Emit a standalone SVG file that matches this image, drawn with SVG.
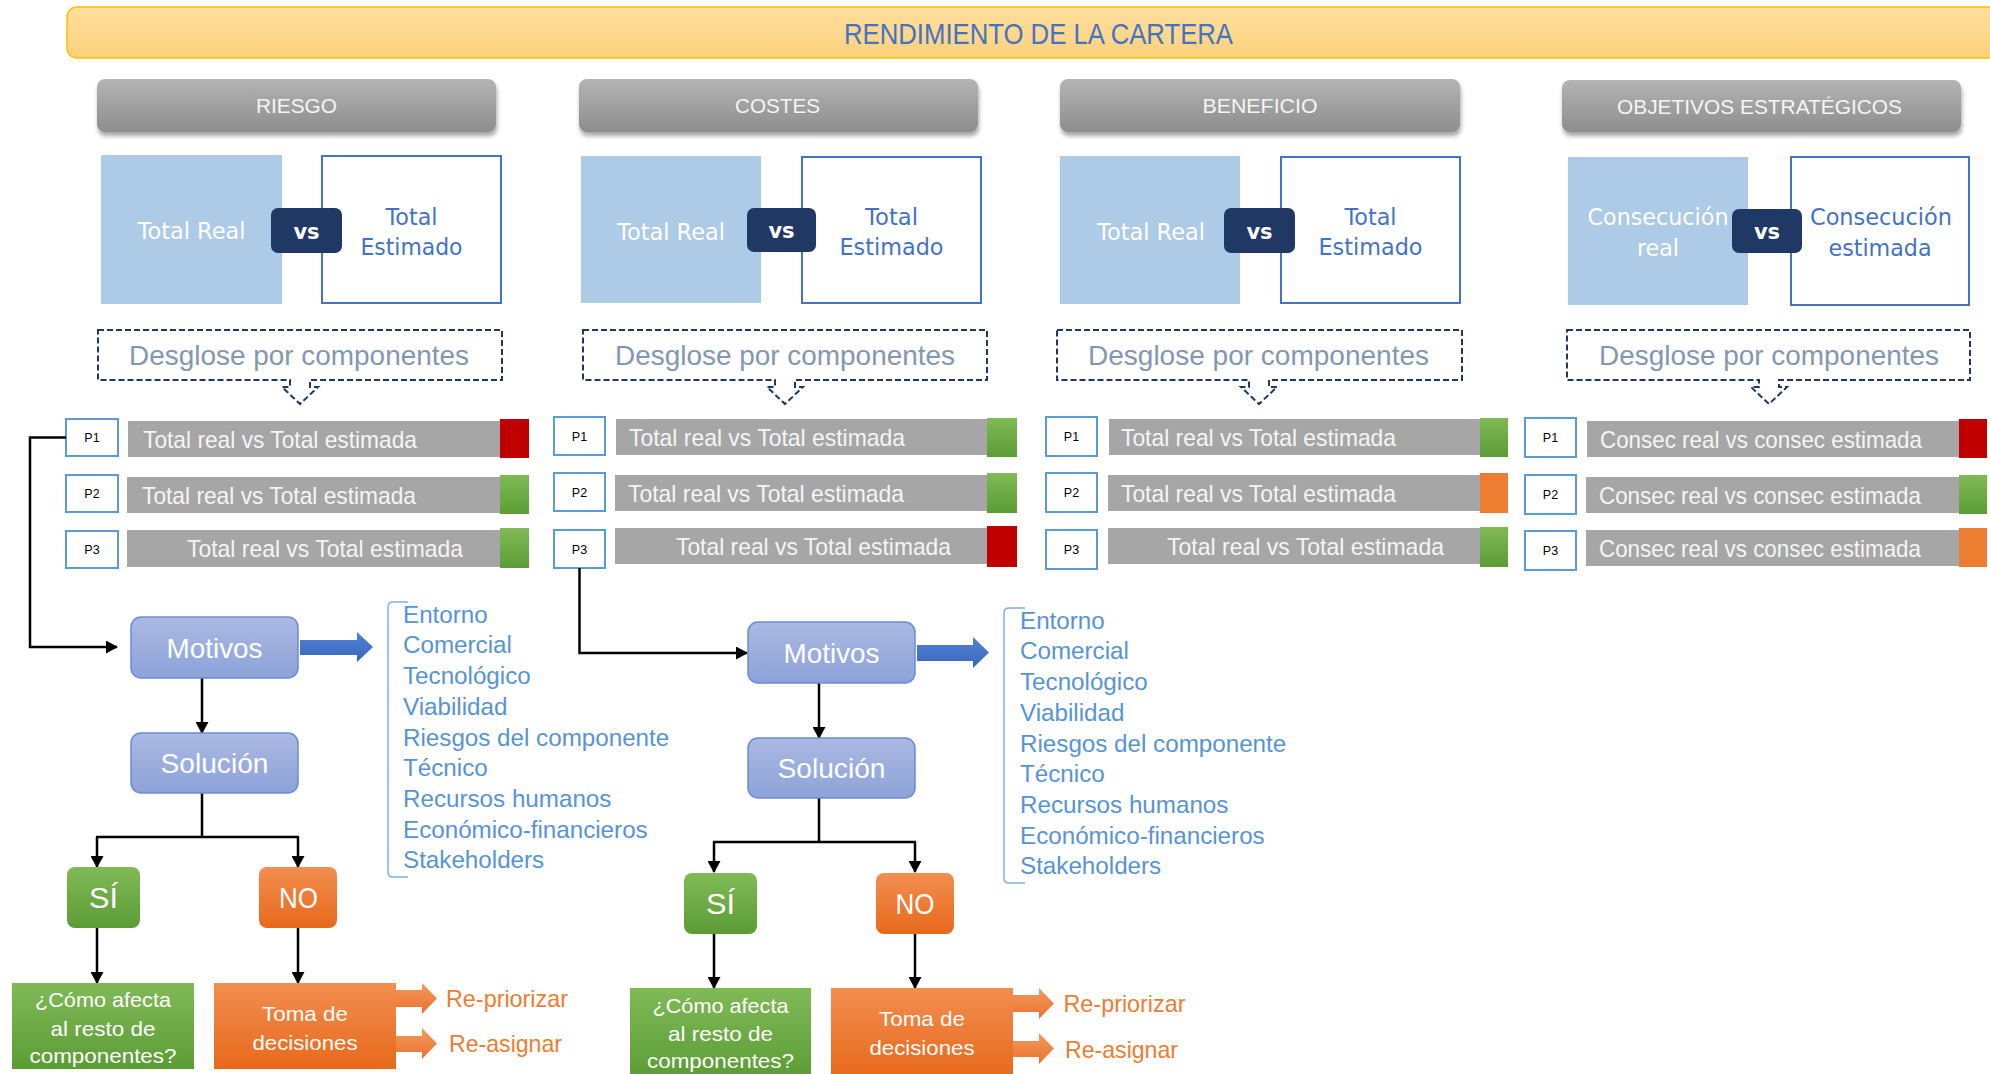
<svg xmlns="http://www.w3.org/2000/svg" width="1990" height="1074" viewBox="0 0 1990 1074">
  <defs>
    <linearGradient id="gBanner" x1="0" y1="0" x2="0" y2="1"><stop offset="0" stop-color="#ffdf9f"/><stop offset="1" stop-color="#fdd17b"/></linearGradient>
    <linearGradient id="gHdr" x1="0" y1="0" x2="0" y2="1"><stop offset="0" stop-color="#b4b4b4"/><stop offset="1" stop-color="#8d8d8d"/></linearGradient>
    <linearGradient id="gMot" x1="0" y1="0" x2="0" y2="1"><stop offset="0" stop-color="#abb9e2"/><stop offset="1" stop-color="#8ca2d9"/></linearGradient>
    <linearGradient id="gGreen" x1="0" y1="0" x2="0" y2="1"><stop offset="0" stop-color="#80ba57"/><stop offset="1" stop-color="#5c9c35"/></linearGradient>
    <linearGradient id="gOrange" x1="0" y1="0" x2="0" y2="1"><stop offset="0" stop-color="#f28e50"/><stop offset="1" stop-color="#e7691b"/></linearGradient>
    <linearGradient id="gBlueArrow" x1="0" y1="0" x2="0" y2="1"><stop offset="0" stop-color="#5082d3"/><stop offset="1" stop-color="#3a66be"/></linearGradient>
    <linearGradient id="gOrArrow" x1="0" y1="0" x2="0" y2="1"><stop offset="0" stop-color="#f39a5c"/><stop offset="1" stop-color="#ea7330"/></linearGradient>
    <filter id="shadow" x="-5%" y="-20%" width="110%" height="160%">
      <feDropShadow dx="1" dy="4" stdDeviation="2.2" flood-color="#000" flood-opacity="0.35"/>
    </filter>
    <marker id="arr" markerUnits="userSpaceOnUse" markerWidth="13" markerHeight="13" refX="11" refY="6.5" orient="auto">
      <path d="M0,0 L12,6.5 L0,13 Z" fill="#000"/>
    </marker>
    <style>
      text { font-family: "Liberation Sans", Arial, sans-serif; }
      .title { font-size: 29px; fill: #4472c4; text-anchor: middle; }
      .banner { fill: url(#gBanner); stroke: #ffc000; stroke-width: 1.5; }
      .hdr { fill: url(#gHdr); filter: url(#shadow); }
      .hdrT { font-size: 21px; fill: #f5f5f5; text-anchor: middle; }
      .real { fill: #adcae7; }
      .est { fill: #fff; stroke: #4472c4; stroke-width: 2; }
      .vs { fill: #203864; }
      .vsT { font-family: "DejaVu Sans", Verdana, sans-serif; font-size: 21px; font-weight: bold; fill: #fff; text-anchor: middle; }
      .realT { font-family: "DejaVu Sans", Verdana, sans-serif; font-size: 23px; fill: #fff; text-anchor: middle; }
      .estT { font-family: "DejaVu Sans", Verdana, sans-serif; font-size: 23px; fill: #4472c4; text-anchor: middle; }
      .callout { fill: #fff; stroke: #203864; stroke-width: 2; stroke-dasharray: 6 3; }
      .callT { font-size: 28px; fill: #8497b0; text-anchor: middle; }
      .pbox { fill: #fff; stroke: #5b9bd5; stroke-width: 2; }
      .pT { font-size: 12.5px; fill: #000; text-anchor: middle; }
      .bar { fill: #a6a6a6; }
      .barT { font-size: 24px; fill: #f5f5f5; }
      .red { fill: #c00000; }
      .grn { fill: url(#gGreen); }
      .org { fill: #ed7d31; }
      .mot { fill: url(#gMot); stroke: #6c8cd5; stroke-width: 1.5; }
      .motT { font-size: 28px; fill: #fff; text-anchor: middle; }
      .si { fill: url(#gGreen); }
      .no { fill: url(#gOrange); }
      .decT { font-size: 30px; fill: #fff; text-anchor: middle; }
      .boxT { font-size: 21px; fill: #fff; text-anchor: middle; }
      .list { font-size: 24.2px; fill: #5694d4; }
      .brk { fill: none; stroke: #7fb0e0; stroke-width: 1.5; }
      .bigArr { fill: url(#gBlueArrow); }
      .orArr { fill: url(#gOrArrow); }
      .opt { font-size: 24px; fill: #ed7d31; }
      .conn { fill: none; stroke: #000; stroke-width: 2.5; }
      .connA { fill: none; stroke: #000; stroke-width: 2.5; marker-end: url(#arr); }
    </style>
  </defs>

  <rect width="1990" height="1074" fill="#fff"/>

  <!-- Title banner -->
  <g id="banner">
    <rect class="banner" x="67" y="7" width="1940" height="51" rx="10"/>
    <text class="title" x="1038.5" y="44" textLength="389" lengthAdjust="spacingAndGlyphs">RENDIMIENTO DE LA CARTERA</text>
  </g>

  <!-- Column headers -->
  <g id="hdr-riesgo"><rect class="hdr" x="97" y="79" width="399" height="53" rx="8"/><text class="hdrT" x="296.5" y="113" textLength="81" lengthAdjust="spacingAndGlyphs">RIESGO</text></g>
  <g id="hdr-costes"><rect class="hdr" x="579" y="79" width="399" height="53" rx="8"/><text class="hdrT" x="777.5" y="113" textLength="85" lengthAdjust="spacingAndGlyphs">COSTES</text></g>
  <g id="hdr-beneficio"><rect class="hdr" x="1060" y="79" width="400" height="53" rx="8"/><text class="hdrT" x="1260" y="113" textLength="115" lengthAdjust="spacingAndGlyphs">BENEFICIO</text></g>
  <g id="hdr-objetivos"><rect class="hdr" x="1562" y="80" width="399" height="52" rx="8"/><text class="hdrT" x="1759.5" y="113.5" textLength="285" lengthAdjust="spacingAndGlyphs">OBJETIVOS ESTRATÉGICOS</text></g>

  <!-- Real vs estimated comparison blocks -->
  <g id="cmp-riesgo">
    <rect class="real" x="101" y="155" width="181" height="149"/>
    <rect class="est" x="322" y="156" width="179" height="147"/>
    <text class="realT" x="191.5" y="239" textLength="108" lengthAdjust="spacingAndGlyphs">Total Real</text>
    <text class="estT" x="411.5" y="224.5" textLength="52" lengthAdjust="spacingAndGlyphs">Total</text>
    <text class="estT" x="411.5" y="254.5" textLength="102" lengthAdjust="spacingAndGlyphs">Estimado</text>
    <rect class="vs" x="271" y="208" width="71" height="45" rx="7"/>
    <text class="vsT" x="306.5" y="238.5">vs</text>
  </g>
  <g id="cmp-costes">
    <rect class="real" x="581" y="156" width="180" height="147"/>
    <rect class="est" x="802" y="157" width="179" height="146"/>
    <text class="realT" x="671" y="239.5" textLength="108" lengthAdjust="spacingAndGlyphs">Total Real</text>
    <text class="estT" x="891.5" y="225" textLength="53" lengthAdjust="spacingAndGlyphs">Total</text>
    <text class="estT" x="891.5" y="255" textLength="104" lengthAdjust="spacingAndGlyphs">Estimado</text>
    <rect class="vs" x="747" y="208" width="69" height="44" rx="7"/>
    <text class="vsT" x="781.5" y="238">vs</text>
  </g>
  <g id="cmp-beneficio">
    <rect class="real" x="1060" y="156" width="180" height="148"/>
    <rect class="est" x="1281" y="157" width="179" height="146"/>
    <text class="realT" x="1151" y="239.5" textLength="108" lengthAdjust="spacingAndGlyphs">Total Real</text>
    <text class="estT" x="1370.5" y="225" textLength="52" lengthAdjust="spacingAndGlyphs">Total</text>
    <text class="estT" x="1370.5" y="255" textLength="104" lengthAdjust="spacingAndGlyphs">Estimado</text>
    <rect class="vs" x="1224" y="208" width="71" height="45" rx="7"/>
    <text class="vsT" x="1259.5" y="238.5">vs</text>
  </g>
  <g id="cmp-objetivos">
    <rect class="real" x="1568" y="157" width="180" height="148"/>
    <rect class="est" x="1791" y="157" width="178" height="148"/>
    <text class="realT" x="1658" y="225" textLength="141" lengthAdjust="spacingAndGlyphs">Consecución</text>
    <text class="realT" x="1658" y="256" textLength="42" lengthAdjust="spacingAndGlyphs">real</text>
    <text class="estT" x="1881" y="225" textLength="142" lengthAdjust="spacingAndGlyphs">Consecución</text>
    <text class="estT" x="1880" y="256" textLength="103" lengthAdjust="spacingAndGlyphs">estimada</text>
    <rect class="vs" x="1732" y="209" width="70" height="44" rx="7"/>
    <text class="vsT" x="1767" y="239">vs</text>
  </g>

  <!-- Breakdown callouts (dashed box with a pointer underneath) -->
  <g id="desglose-riesgo">
    <path class="callout" d="M98,330 H502 V380 H310 V387 H318 L300,404 L282,387 H290 V380 H98 Z"/>
    <text class="callT" x="299" y="365" textLength="340" lengthAdjust="spacingAndGlyphs">Desglose por componentes</text>
  </g>
  <g id="desglose-costes">
    <path class="callout" d="M583,330 H987 V380 H795 V387 H803 L785,404 L767,387 H775 V380 H583 Z"/>
    <text class="callT" x="785" y="365" textLength="340" lengthAdjust="spacingAndGlyphs">Desglose por componentes</text>
  </g>
  <g id="desglose-beneficio">
    <path class="callout" d="M1057,330 H1462 V380 H1269 V387 H1277 L1259,404 L1241,387 H1249 V380 H1057 Z"/>
    <text class="callT" x="1258.5" y="365" textLength="341" lengthAdjust="spacingAndGlyphs">Desglose por componentes</text>
  </g>
  <g id="desglose-objetivos">
    <path class="callout" d="M1567,330 H1970 V380 H1779 V387 H1787 L1769,404 L1751,387 H1759 V380 H1567 Z"/>
    <text class="callT" x="1769" y="365" textLength="340" lengthAdjust="spacingAndGlyphs">Desglose por componentes</text>
  </g>

  <!-- Component rows: RIESGO -->
  <g id="riesgo-p1"><rect class="pbox" x="66" y="419" width="52" height="37"/><text class="pT" x="92" y="442">P1</text>
    <rect class="bar" x="128" y="421" width="372" height="36"/><rect class="red" x="500" y="419" width="29" height="39"/>
    <text class="barT" x="143" y="447.5" textLength="274" lengthAdjust="spacingAndGlyphs">Total real vs Total estimada</text></g>
  <g id="riesgo-p2"><rect class="pbox" x="66" y="475" width="52" height="37"/><text class="pT" x="92" y="498">P2</text>
    <rect class="bar" x="127" y="477" width="373" height="36"/><rect class="grn" x="500" y="475" width="29" height="39"/>
    <text class="barT" x="142" y="503.5" textLength="274" lengthAdjust="spacingAndGlyphs">Total real vs Total estimada</text></g>
  <g id="riesgo-p3"><rect class="pbox" x="66" y="531" width="52" height="37"/><text class="pT" x="92" y="554">P3</text>
    <rect class="bar" x="127" y="530" width="373" height="37"/><rect class="grn" x="500" y="528" width="29" height="40"/>
    <text class="barT" x="187" y="557" textLength="276" lengthAdjust="spacingAndGlyphs">Total real vs Total estimada</text></g>

  <!-- Component rows: COSTES -->
  <g id="costes-p1"><rect class="pbox" x="554" y="417" width="51" height="38"/><text class="pT" x="579.5" y="440.5">P1</text>
    <rect class="bar" x="616" y="419" width="371" height="36"/><rect class="grn" x="987" y="418" width="30" height="39"/>
    <text class="barT" x="629" y="445.5" textLength="276" lengthAdjust="spacingAndGlyphs">Total real vs Total estimada</text></g>
  <g id="costes-p2"><rect class="pbox" x="554" y="473" width="51" height="38"/><text class="pT" x="579.5" y="496.5">P2</text>
    <rect class="bar" x="615" y="475" width="372" height="36"/><rect class="grn" x="987" y="473" width="30" height="40"/>
    <text class="barT" x="628" y="501.5" textLength="276" lengthAdjust="spacingAndGlyphs">Total real vs Total estimada</text></g>
  <g id="costes-p3"><rect class="pbox" x="554" y="530" width="51" height="38"/><text class="pT" x="579.5" y="553.5">P3</text>
    <rect class="bar" x="615" y="528" width="372" height="36"/><rect class="red" x="987" y="526" width="30" height="41"/>
    <text class="barT" x="676" y="554.5" textLength="275" lengthAdjust="spacingAndGlyphs">Total real vs Total estimada</text></g>

  <!-- Component rows: BENEFICIO -->
  <g id="beneficio-p1"><rect class="pbox" x="1046" y="417" width="51" height="39"/><text class="pT" x="1071.5" y="441">P1</text>
    <rect class="bar" x="1109" y="419" width="371" height="36"/><rect class="grn" x="1480" y="418" width="28" height="39"/>
    <text class="barT" x="1121" y="445.5" textLength="275" lengthAdjust="spacingAndGlyphs">Total real vs Total estimada</text></g>
  <g id="beneficio-p2"><rect class="pbox" x="1046" y="473" width="51" height="39"/><text class="pT" x="1071.5" y="497">P2</text>
    <rect class="bar" x="1108" y="475" width="372" height="36"/><rect class="org" x="1480" y="473" width="28" height="40"/>
    <text class="barT" x="1121" y="501.5" textLength="275" lengthAdjust="spacingAndGlyphs">Total real vs Total estimada</text></g>
  <g id="beneficio-p3"><rect class="pbox" x="1046" y="530" width="51" height="39"/><text class="pT" x="1071.5" y="554">P3</text>
    <rect class="bar" x="1108" y="528" width="372" height="36"/><rect class="grn" x="1480" y="527" width="28" height="40"/>
    <text class="barT" x="1167" y="554.5" textLength="277" lengthAdjust="spacingAndGlyphs">Total real vs Total estimada</text></g>

  <!-- Component rows: OBJETIVOS ESTRATÉGICOS -->
  <g id="objetivos-p1"><rect class="pbox" x="1525" y="418" width="51" height="39"/><text class="pT" x="1550.5" y="442">P1</text>
    <rect class="bar" x="1587" y="421" width="372" height="36"/><rect class="red" x="1959" y="419" width="28" height="39"/>
    <text class="barT" x="1600" y="447.5" textLength="322" lengthAdjust="spacingAndGlyphs">Consec real vs consec estimada</text></g>
  <g id="objetivos-p2"><rect class="pbox" x="1525" y="475" width="51" height="39"/><text class="pT" x="1550.5" y="499">P2</text>
    <rect class="bar" x="1586" y="477" width="373" height="36"/><rect class="grn" x="1959" y="475" width="28" height="39"/>
    <text class="barT" x="1599" y="503.5" textLength="322" lengthAdjust="spacingAndGlyphs">Consec real vs consec estimada</text></g>
  <g id="objetivos-p3"><rect class="pbox" x="1525" y="531" width="51" height="39"/><text class="pT" x="1550.5" y="555">P3</text>
    <rect class="bar" x="1586" y="530" width="373" height="36"/><rect class="org" x="1959" y="528" width="28" height="39"/>
    <text class="barT" x="1599" y="556.5" textLength="322" lengthAdjust="spacingAndGlyphs">Consec real vs consec estimada</text></g>

  <!-- Connectors -->
  <g id="connectors">
    <path class="connA" d="M66,437.5 H30 V647 H117"/>
    <path class="connA" d="M202,678 V733"/>
    <path class="conn" d="M202,793 V837 M96,837 H299"/>
    <path class="connA" d="M97,837 V867"/>
    <path class="connA" d="M298,837 V867"/>
    <path class="connA" d="M97,928 V983"/>
    <path class="connA" d="M298,928 V983"/>

    <path class="connA" d="M579.5,568 V653 H747"/>
    <path class="connA" d="M819,683 V738"/>
    <path class="conn" d="M819,798 V842 M713,842 H916"/>
    <path class="connA" d="M714,842 V872"/>
    <path class="connA" d="M915,842 V872"/>
    <path class="connA" d="M714,933 V988"/>
    <path class="connA" d="M915,933 V988"/>
  </g>

  <!-- Analysis flow for P1 (RIESGO) -->
  <g id="motivos-1">
    <rect class="mot" x="131" y="617" width="167" height="61" rx="10"/>
    <text class="motT" x="214.5" y="657.5" textLength="96" lengthAdjust="spacingAndGlyphs">Motivos</text>
  </g>
  <g id="motivos-arrow-1"><polygon class="bigArr" points="300,640 357,640 357,632 373,647 357,662 357,655 300,655"/></g>
  <g id="motivos-lista-1">
    <path class="brk" d="M408,602 H393 Q388,602 388,607 V872 Q388,877 393,877 H408"/>
    <text class="list" x="403" y="622.7">Entorno</text>
    <text class="list" x="403" y="652.7">Comercial</text>
    <text class="list" x="403" y="683.7">Tecnológico</text>
    <text class="list" x="403" y="714.7">Viabilidad</text>
    <text class="list" x="403" y="745.7">Riesgos del componente</text>
    <text class="list" x="403" y="775.7">Técnico</text>
    <text class="list" x="403" y="806.7">Recursos humanos</text>
    <text class="list" x="403" y="837.7">Económico-financieros</text>
    <text class="list" x="403" y="867.7">Stakeholders</text>
  </g>
  <g id="solucion-1">
    <rect class="mot" x="131" y="733" width="167" height="60" rx="10"/>
    <text class="motT" x="214.5" y="773" textLength="108" lengthAdjust="spacingAndGlyphs">Solución</text>
  </g>
  <g id="si-1">
    <rect class="si" x="67" y="867" width="73" height="61" rx="8"/>
    <text class="decT" x="103.5" y="908" textLength="29" lengthAdjust="spacingAndGlyphs">SÍ</text>
  </g>
  <g id="no-1">
    <rect class="no" x="259" y="867" width="78" height="61" rx="8"/>
    <text class="decT" x="298.5" y="908" textLength="39" lengthAdjust="spacingAndGlyphs">NO</text>
  </g>
  <g id="afecta-1">
    <rect class="si" x="12" y="983" width="182" height="86"/>
    <text class="boxT" x="103" y="1006.5" textLength="136" lengthAdjust="spacingAndGlyphs">¿Cómo afecta</text>
    <text class="boxT" x="103" y="1035.5" textLength="105" lengthAdjust="spacingAndGlyphs">al resto de</text>
    <text class="boxT" x="103" y="1062.5" textLength="147" lengthAdjust="spacingAndGlyphs">componentes?</text>
  </g>
  <g id="decision-1">
    <rect class="no" x="214" y="983" width="182" height="86"/>
    <text class="boxT" x="305" y="1020.5" textLength="86" lengthAdjust="spacingAndGlyphs">Toma de</text>
    <text class="boxT" x="305" y="1049.5" textLength="105" lengthAdjust="spacingAndGlyphs">decisiones</text>
    <polygon class="orArr" points="396,990 422,990 422,983 437,998.5 422,1014 422,1007 396,1007"/>
    <polygon class="orArr" points="396,1036 422,1036 422,1028 437,1043.5 422,1059 422,1052 396,1052"/>
  </g>
  <g id="opciones-1">
    <text class="opt" x="446" y="1006.5" textLength="122" lengthAdjust="spacingAndGlyphs">Re-priorizar</text>
    <text class="opt" x="449" y="1051.5" textLength="113" lengthAdjust="spacingAndGlyphs">Re-asignar</text>
  </g>

  <!-- Analysis flow for P3 (COSTES) -->
  <g id="motivos-2">
    <rect class="mot" x="748" y="622" width="167" height="61" rx="10"/>
    <text class="motT" x="831.5" y="662.5" textLength="96" lengthAdjust="spacingAndGlyphs">Motivos</text>
  </g>
  <g id="motivos-arrow-2"><polygon class="bigArr" points="917,645 973,645 973,637 989,652.5 973,668 973,661 917,661"/></g>
  <g id="motivos-lista-2">
    <path class="brk" d="M1025,608 H1009 Q1004,608 1004,613 V878 Q1004,883 1009,883 H1025"/>
    <text class="list" x="1020" y="628.7">Entorno</text>
    <text class="list" x="1020" y="658.7">Comercial</text>
    <text class="list" x="1020" y="689.7">Tecnológico</text>
    <text class="list" x="1020" y="720.7">Viabilidad</text>
    <text class="list" x="1020" y="751.7">Riesgos del componente</text>
    <text class="list" x="1020" y="781.7">Técnico</text>
    <text class="list" x="1020" y="812.7">Recursos humanos</text>
    <text class="list" x="1020" y="843.7">Económico-financieros</text>
    <text class="list" x="1020" y="873.7">Stakeholders</text>
  </g>
  <g id="solucion-2">
    <rect class="mot" x="748" y="738" width="167" height="60" rx="10"/>
    <text class="motT" x="831.5" y="778" textLength="108" lengthAdjust="spacingAndGlyphs">Solución</text>
  </g>
  <g id="si-2">
    <rect class="si" x="684" y="873" width="73" height="61" rx="8"/>
    <text class="decT" x="720.5" y="914" textLength="29" lengthAdjust="spacingAndGlyphs">SÍ</text>
  </g>
  <g id="no-2">
    <rect class="no" x="876" y="873" width="78" height="61" rx="8"/>
    <text class="decT" x="915" y="914" textLength="39" lengthAdjust="spacingAndGlyphs">NO</text>
  </g>
  <g id="afecta-2">
    <rect class="si" x="630" y="988" width="181" height="90"/>
    <text class="boxT" x="720.5" y="1012.5" textLength="136" lengthAdjust="spacingAndGlyphs">¿Cómo afecta</text>
    <text class="boxT" x="720.5" y="1040.5" textLength="105" lengthAdjust="spacingAndGlyphs">al resto de</text>
    <text class="boxT" x="720.5" y="1067.5" textLength="147" lengthAdjust="spacingAndGlyphs">componentes?</text>
  </g>
  <g id="decision-2">
    <rect class="no" x="831" y="988" width="182" height="90"/>
    <text class="boxT" x="922" y="1025.5" textLength="86" lengthAdjust="spacingAndGlyphs">Toma de</text>
    <text class="boxT" x="922" y="1054.5" textLength="105" lengthAdjust="spacingAndGlyphs">decisiones</text>
    <polygon class="orArr" points="1013,995 1039,995 1039,988 1054,1003.5 1039,1019 1039,1012 1013,1012"/>
    <polygon class="orArr" points="1013,1041 1039,1041 1039,1033 1054,1048.5 1039,1064 1039,1057 1013,1057"/>
  </g>
  <g id="opciones-2">
    <text class="opt" x="1063.5" y="1011.5" textLength="122" lengthAdjust="spacingAndGlyphs">Re-priorizar</text>
    <text class="opt" x="1065" y="1057.5" textLength="113" lengthAdjust="spacingAndGlyphs">Re-asignar</text>
  </g>
</svg>
